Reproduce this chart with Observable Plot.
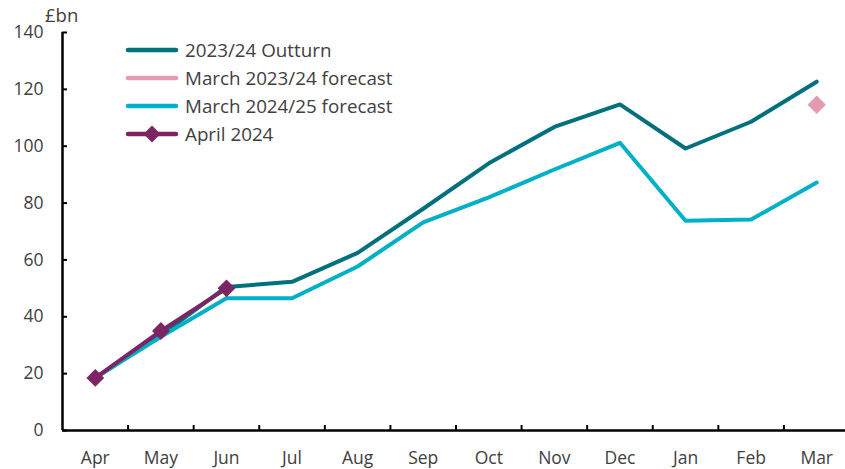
<!DOCTYPE html>
<html><head><meta charset="utf-8">
<script src="https://cdn.jsdelivr.net/npm/d3@7"></script>
<script src="https://cdn.jsdelivr.net/npm/@observablehq/plot@0.6"></script>
<style>
body{margin:0;background:#fff;font-family:"Open Sans",sans-serif;}
#wrap{position:relative;width:845px;height:469px;}
#legend{position:absolute;left:125px;top:36px;font-size:18.8px;color:#404040;}
#legend div{height:28px;display:flex;align-items:center;}
#legend svg{margin-right:4px;}
#unit{position:absolute;left:45px;top:2px;font-size:18.5px;color:#404040;}
</style></head>
<body><div id="wrap"><div id="unit">£bn</div><div id="legend"></div></div>
<script>
const months = ["Apr","May","Jun","Jul","Aug","Sep","Oct","Nov","Dec","Jan","Feb","Mar"];
const outturn2324 = [18.5,33.5,50.5,52.3,62.5,78,94,106.8,114.7,99.2,108.6,122.7];
const forecastMar2324 = [null,null,null,null,null,null,null,null,null,null,null,114.6];
const forecastMar2425 = [18.5,33,46.5,46.5,57.7,73.2,82,91.8,101.2,73.8,74.2,87.2];
const april2024 = [18.5,35,50,null,null,null,null,null,null,null,null,null];
const yTicks = [0,20,40,60,80,100,120,140];

const series = [
  {name:"2023/24 Outturn", values:outturn2324, color:"#00707c", marker:false},
  {name:"March 2023/24 forecast", values:forecastMar2324, color:"#e49bb0", marker:false},
  {name:"March 2024/25 forecast", values:forecastMar2425, color:"#00b0c7", marker:false},
  {name:"April 2024", values:april2024, color:"#7d2465", marker:true}
];
const toRows = (s) => s.values.map((v,i)=>({i, v})).filter(d=>d.v!=null);

const marks = [];
for (const s of [series[0], series[2], series[3]]) {
  marks.push(Plot.line(toRows(s), {x:"i", y:"v", stroke:s.color, strokeWidth:4, strokeLinejoin:"round", strokeLinecap:"round"}));
}
marks.push(Plot.dot(toRows(series[3]), {x:"i", y:"v", symbol:"diamond2", r:8, fill:series[3].color, stroke:null}));
marks.push(Plot.dot(toRows(series[1]), {x:"i", y:"v", symbol:"diamond2", r:8.3, fill:series[1].color, stroke:null}));

const plot = Plot.plot({
  width:845, height:469,
  marginLeft:62, marginRight:0, marginTop:32, marginBottom:39,
  style:{fontFamily:"'Open Sans', sans-serif", fontSize:"17.5px", color:"#404040", background:"white"},
  x:{type:"linear", domain:[-0.5,11.5], range:[62,849]},
  y:{domain:[0,140]},
  marks:[
    Plot.axisY({ticks:yTicks, tickSize:-5, tickPadding:24, stroke:"black", strokeWidth:2, label:null, tickFormat:d=>d, fill:"#404040"}),
    Plot.axisX({ticks:d3.range(0.5,11,1), tickSize:-5, tickFormat:()=>"", stroke:"black", strokeWidth:2, label:null}),
    Plot.axisX({ticks:d3.range(0,12,1), tickSize:0, tickPadding:21, tickFormat:i=>months[i], label:null, fill:"#404040"}),
    Plot.ruleY([0], {stroke:"black", strokeWidth:2.5}),
    Plot.ruleX([-0.5], {stroke:"black", strokeWidth:2.5}),
    ...marks
  ]
});
const wrap = document.getElementById("wrap");
wrap.insertBefore(plot, wrap.firstChild);

const leg = document.getElementById("legend");
for (const s of series) {
  const row = document.createElement("div");
  const marker = s.marker ? `<path d="M27,-8.5L35.5,0L27,8.5L18.5,0Z" transform="translate(0,10)" fill="${s.color}"/>` : "";
  row.innerHTML = `<svg width="56" height="20"><line x1="3" y1="10" x2="51" y2="10" stroke="${s.color}" stroke-width="4.5" stroke-linecap="round"/>${marker}</svg><span>${s.name}</span>`;
  leg.appendChild(row);
}
</script></body></html>
